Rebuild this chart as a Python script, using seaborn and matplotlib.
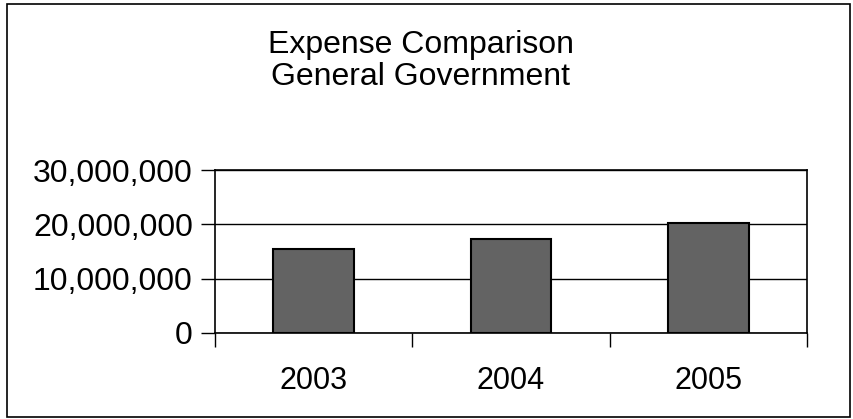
import matplotlib
matplotlib.use('Agg')
import matplotlib.pyplot as plt
import seaborn as sns
import pandas as pd
from matplotlib.ticker import FuncFormatter
from matplotlib.patches import Rectangle

# values
years = ['2003', '2004', '2005']
expenses = [15400000, 17300000, 20300000]
y_ticks = [0, 10000000, 20000000, 30000000]

sns.set_theme(style='white')
plt.rcParams['font.family'] = ['Liberation Sans', 'DejaVu Sans']

fig = plt.figure(figsize=(8.54, 4.19), dpi=100)
ax = fig.add_axes([215 / 854, 1 - 333 / 419, 592 / 854, 163 / 419])

df = pd.DataFrame({'year': years, 'expense': expenses})
sns.barplot(data=df, x='year', y='expense', color='#636363', saturation=1,
            width=0.41, edgecolor='black', linewidth=1.5, ax=ax, zorder=3)

ax.set_xlim(-0.5, 2.5)
ax.set_ylim(0, 30000000)
ax.set_yticks(y_ticks)
ax.yaxis.set_major_formatter(FuncFormatter(lambda v, p: f'{int(v):,}'))
ax.set_xticks([-0.5, 0.5, 1.5, 2.5], minor=True)
ax.set_xlabel('')
ax.set_ylabel('')

ax.grid(axis='y', color='black', linewidth=1)
ax.grid(axis='x', visible=False)
ax.set_axisbelow(True)
for s in ax.spines.values():
    s.set_color('black')
    s.set_linewidth(1.2)

ax.tick_params(axis='y', left=True, length=10, width=1, color='black',
               labelsize=23, labelcolor='black', pad=6)
ax.tick_params(axis='x', which='major', bottom=True, length=0,
               labelsize=22, labelcolor='black', pad=24)
ax.tick_params(axis='x', which='minor', bottom=True, length=10, width=1,
               color='black')

fig.text(421 / 854, 1 - 61 / 419, 'Expense Comparison\nGeneral Government',
         ha='center', va='center', ma='center', fontsize=23,
         linespacing=1.1, color='black')

fig.patches.append(Rectangle((7 / 854, 2 / 419), 843 / 854, 413 / 419,
                             transform=fig.transFigure, fill=False,
                             edgecolor='black', linewidth=1.2))

fig.savefig('out.png', dpi=100)
